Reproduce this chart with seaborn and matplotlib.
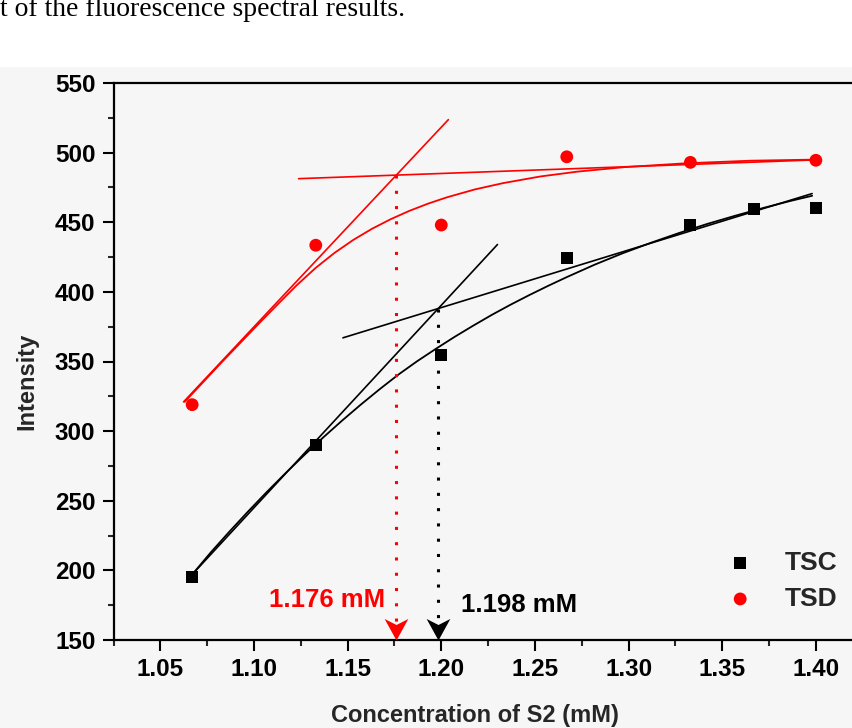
import matplotlib
matplotlib.use("Agg")
import matplotlib.pyplot as plt
from matplotlib.path import Path
from matplotlib.patches import Rectangle
from matplotlib.ticker import AutoMinorLocator, FixedLocator
import seaborn as sns

# ---------------- data ----------------
tsc_x = [1.067, 1.133, 1.200, 1.267, 1.333, 1.367, 1.400]
tsc_y = [195, 290, 355, 424, 448, 459.5, 460.5]
tsd_x = [1.067, 1.133, 1.200, 1.267, 1.333, 1.400]
tsd_y = [319, 433.5, 448, 497, 493, 494.5]

# fitted curves
tsc_fit_x = [1.067, 1.077, 1.087, 1.097, 1.107, 1.117, 1.127, 1.137, 1.147, 1.157,
             1.167, 1.177, 1.187, 1.197, 1.207, 1.217, 1.227, 1.237, 1.247, 1.257,
             1.267, 1.282, 1.297, 1.312, 1.327, 1.342, 1.357, 1.372, 1.387, 1.398]
tsc_fit_y = [197, 213, 228, 242.5, 256.5, 270, 283, 295.5, 307.5, 319,
             330, 340.5, 350.1, 359.0, 367.6, 375.7, 383.5, 390.8, 397.7, 404.3,
             410.6, 419.6, 427.8, 435.3, 442.3, 448.8, 454.7, 460.3, 465.5, 469]
tsd_fit_x = [1.063, 1.083, 1.103, 1.113, 1.123, 1.133, 1.143, 1.153, 1.163, 1.173,
             1.183, 1.193, 1.203, 1.218, 1.233, 1.253, 1.273, 1.298, 1.330, 1.365, 1.400]
tsd_fit_y = [321, 349.8, 377.8, 391.5, 405, 417.3, 428.0, 437.3, 445.3, 452.2,
             458.2, 463.4, 467.9, 473.6, 478.1, 482.9, 486.4, 489.6, 492.3, 494.2, 495.0]

# tangent lines
tsc_tan1_x = [1.067, 1.230]
tsc_tan1_y = [197, 434]
tsc_tan2_x = [1.1475, 1.398]
tsc_tan2_y = [367, 470.6]
tsd_tan1_x = [1.0624, 1.2038]
tsd_tan1_y = [321, 523.7]
tsd_tan2_x = [1.1238, 1.400]
tsd_tan2_y = [481.3, 494.8]

# onset (intersection) values
onset_x = [1.176, 1.198]
onset_y = [484, 388]
onset_labels = ["1.176 mM", "1.198 mM"]
onset_label_x = [1.1388, 1.2416]
onset_label_y = [178.5, 175]
onset_colors = ["#ff0000", "#000000"]

xticks = [1.05, 1.10, 1.15, 1.20, 1.25, 1.30, 1.35, 1.40]
xtick_labels = ["1.05", "1.10", "1.15", "1.20", "1.25", "1.30", "1.35", "1.40"]
yticks = [150, 200, 250, 300, 350, 400, 450, 500, 550]
ytick_labels = [str(v) for v in yticks]

RED = "#ff0000"
BLACK = "#000000"
BG = "#f6f6f6"

# ---------------- style ----------------
sns.set_style("ticks")
plt.rcParams["font.family"] = ["Liberation Sans", "DejaVu Sans"]
plt.rcParams["font.weight"] = "bold"
plt.rcParams["axes.labelweight"] = "bold"

W, H = 852, 728
fig = plt.figure(figsize=(W / 100, H / 100), dpi=100, facecolor=BG)
ax_left, ax_right = 113.5, 862.7
ax_top, ax_bottom = 83.0, 640.0
ax = fig.add_axes([ax_left / W, 1 - ax_bottom / H,
                   (ax_right - ax_left) / W, (ax_bottom - ax_top) / H])
ax.set_facecolor(BG)

# white strip with the caption fragment at top
fig.patches.append(Rectangle((0, 1 - 67 / H), 1, 67 / H, transform=fig.transFigure,
                             facecolor="white", edgecolor="none", zorder=0))
fig.text(0.0, 1 - 16 / H, "t of the fluorescence spectral results.",
         family=["Liberation Serif", "DejaVu Serif"], fontsize=20,
         weight="normal", va="baseline", ha="left", color="black")

# ---------------- lines ----------------
line_kw = dict(ax=ax, sort=False, estimator=None, legend=False)
sns.lineplot(x=tsd_fit_x, y=tsd_fit_y, color=RED, lw=1.3, **line_kw)
sns.lineplot(x=tsd_tan1_x, y=tsd_tan1_y, color=RED, lw=1.2, **line_kw)
sns.lineplot(x=tsd_tan2_x, y=tsd_tan2_y, color=RED, lw=1.2, **line_kw)
sns.lineplot(x=tsc_fit_x, y=tsc_fit_y, color=BLACK, lw=1.3, **line_kw)
sns.lineplot(x=tsc_tan1_x, y=tsc_tan1_y, color=BLACK, lw=1.2, **line_kw)
sns.lineplot(x=tsc_tan2_x, y=tsc_tan2_y, color=BLACK, lw=1.2, **line_kw)

# dotted drop lines and arrowheads
arrow_path = Path([(0, 0), (-0.55, 1.0), (0, 0.72), (0.55, 1.0), (0, 0)],
                  [Path.MOVETO, Path.LINETO, Path.LINETO, Path.LINETO, Path.CLOSEPOLY])
for xv, yv, col in zip(onset_x, onset_y, onset_colors):
    ax.plot([xv, xv], [yv, yticks[0]], color=col, lw=2.2,
            linestyle=(0, (1, 4)), zorder=3)
    ax.plot([xv], [yticks[0]], marker=arrow_path, markersize=31, color=col,
            markeredgewidth=0, linestyle="none", clip_on=False, zorder=6)

for xv, yv, txt, col in zip(onset_label_x, onset_label_y, onset_labels, onset_colors):
    ax.text(xv, yv, txt, color=col, fontsize=18.5, weight="bold",
            ha="center", va="center")

# ---------------- points ----------------
sns.scatterplot(x=tsc_x, y=tsc_y, ax=ax, marker="s", s=74, color=BLACK,
                edgecolor="none", label="TSC", zorder=5)
sns.scatterplot(x=tsd_x, y=tsd_y, ax=ax, marker="o", s=85, color=RED,
                edgecolor="none", label="TSD", zorder=5)

# ---------------- axes ----------------
ax.set_xlim(1.025, 1.425)
ax.set_ylim(150, 550)
ax.xaxis.set_major_locator(FixedLocator(xticks))
ax.yaxis.set_major_locator(FixedLocator(yticks))
ax.set_xticklabels(xtick_labels)
ax.set_yticklabels(ytick_labels)
ax.xaxis.set_minor_locator(AutoMinorLocator(2))
ax.yaxis.set_minor_locator(AutoMinorLocator(2))
ax.tick_params(axis="both", which="major", direction="out", length=8, width=1.5,
               labelsize=17.5, pad=5, colors=BLACK)
ax.tick_params(axis="both", which="minor", direction="out", length=4.5, width=1.5)
ax.tick_params(top=False, right=False, which="both")
for s in ax.spines.values():
    s.set_linewidth(1.6)
    s.set_color(BLACK)
    s.set_visible(True)

ax.set_xlabel("Concentration of S2 (mM)", fontsize=17, weight="bold")
ax.set_ylabel("Intensity", fontsize=17, weight="bold")
ax.xaxis.set_label_coords((475 - ax_left) / (ax_right - ax_left),
                          (ax_bottom - 704) / (ax_bottom - ax_top))
ax.yaxis.set_label_coords((38 - ax_left) / (ax_right - ax_left),
                          (ax_bottom - 381) / (ax_bottom - ax_top))

handles, labels = ax.get_legend_handles_labels()
leg = ax.legend(handles, labels, loc="upper left",
                bbox_to_anchor=(727 / W, 1 - 551 / H), bbox_transform=fig.transFigure,
                frameon=False, fontsize=19, handlelength=1.0, handletextpad=1.2,
                labelspacing=0.45, borderpad=0, borderaxespad=0, scatterpoints=1)
for t in leg.get_texts():
    t.set_fontweight("bold")

fig.savefig("out.png", dpi=100, facecolor=BG)
